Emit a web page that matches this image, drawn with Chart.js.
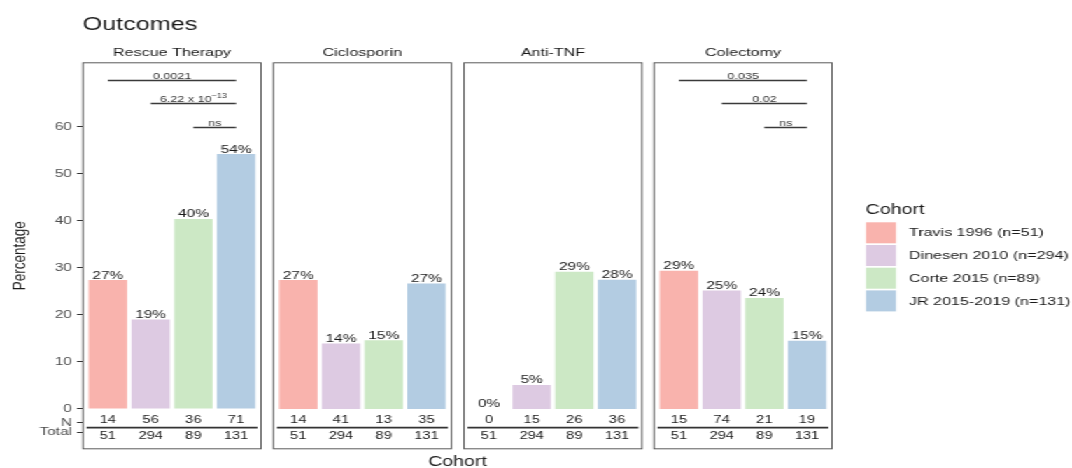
<!DOCTYPE html>
<html>
<head>
<meta charset="utf-8">
<script src="https://cdn.jsdelivr.net/npm/chart.js@4.4.1/dist/chart.umd.min.js"></script>
<style>
html, body { margin: 0; padding: 0; background: #fff; overflow: hidden; }
#fig { position: absolute; left: 0; top: 0; height: 468px; transform-origin: 0 0; }
#fig canvas { position: absolute; left: 0; top: 0; }
</style>
</head>
<body>
<div id="fig"></div>
<script>
// data
const cohorts = ['Travis 1996 (n=51)', 'Dinesen 2010 (n=294)', 'Corte 2015 (n=89)', 'JR 2015-2019 (n=131)'];
const cohortColors = ['#F9B3AD', '#DDCAE2', '#CCE8C5', '#B3CCE2'];
const outcomes = ['Rescue Therapy', 'Ciclosporin', 'Anti-TNF', 'Colectomy'];
const cohortTotals = [51, 294, 89, 131];

const rescuePct = [27.4, 19.0, 40.4, 54.2];
const rescueN = [14, 56, 36, 71];
const ciclosporinPct = [27.4, 13.9, 14.6, 26.7];
const ciclosporinN = [14, 41, 13, 35];
const antiTnfPct = [0, 5.1, 29.2, 27.5];
const antiTnfN = [0, 15, 26, 36];
const colectomyPct = [29.4, 25.2, 23.6, 14.5];
const colectomyN = [15, 74, 21, 19];

const yTicks = [0, 10, 20, 30, 40, 50, 60];

// significance brackets (cohort index pairs, height in %)
const sigPairs = [[1, 4], [2, 4], [3, 4]];
const sigLevels = [70, 65, 60];
const rescueP = [{t: '0.0021'}, {t: '6.22 x 10', sup: '\u221213'}, {t: 'ns'}];
const colectomyP = [{t: '0.035'}, {t: '0.02'}, {t: 'ns'}];

const pctByPanel = [rescuePct, ciclosporinPct, antiTnfPct, colectomyPct];
const nByPanel = [rescueN, ciclosporinN, antiTnfN, colectomyN];
const sigByPanel = [rescueP, null, null, colectomyP];

// layout (the original figure is stretched sideways)
const W = 766, H = 468;
const sx = 1072 / W;
const px = x => x / sx;
const fig = document.getElementById('fig');
fig.style.width = W + 'px';
fig.style.transform = 'scaleX(' + sx + ')';

const FONT = '"Liberation Sans", Arial, Helvetica, sans-serif';
const panelLefts = [82.3, 272.7, 463.3, 653.3];
const panelWidth = 179.4;
const panelTop = 62.3, panelBottom = 449.3;
const yMin = -8.57, yMax = 73.7;
// table rows under the bars, in axis units
const nTickY = -2.9, totalTickY = -4.95, tableLineY = -3.97;
const nTextY = -2.45, totalTextY = -5.75;

function drawSig(ctx, x, y, sig) {
  ctx.strokeStyle = '#3a3a3a';
  ctx.lineWidth = 1.5;
  ctx.fillStyle = '#333';
  ctx.textBaseline = 'alphabetic';
  sig.forEach((s, k) => {
    const x1 = x.getPixelForValue(sigPairs[k][0]);
    const x2 = x.getPixelForValue(sigPairs[k][1]);
    const yy = Math.round(y.getPixelForValue(sigLevels[k])) + 0.5;
    ctx.beginPath(); ctx.moveTo(x1, yy); ctx.lineTo(x2, yy); ctx.stroke();
    ctx.font = '9px ' + FONT;
    const w1 = ctx.measureText(s.t).width;
    let w2 = 0;
    if (s.sup) { ctx.font = '6.5px ' + FONT; w2 = ctx.measureText(s.sup).width; }
    const start = (x1 + x2) / 2 - (w1 + w2) / 2;
    ctx.textAlign = 'left';
    ctx.font = '9px ' + FONT;
    ctx.fillText(s.t, start, yy - 2);
    if (s.sup) { ctx.font = '6.5px ' + FONT; ctx.fillText(s.sup, start + w1, yy - 6); }
  });
}

function panelPlugin(i) {
  return {
    id: 'panel' + i,
    afterDatasetsDraw(chart) {
      const {ctx, chartArea: a, scales: {x, y}} = chart;
      ctx.save();
      ctx.strokeStyle = '#5a5a5a';
      ctx.lineWidth = 1;
      ctx.strokeRect(a.left + 0.5, a.top + 0.5, a.width - 1, a.height - 1);

      ctx.fillStyle = '#1a1a1a';
      ctx.textAlign = 'center';
      ctx.textBaseline = 'alphabetic';
      ctx.font = '11.5px ' + FONT;
      ctx.fillText(outcomes[i], (a.left + a.right) / 2, a.top - 6.3);

      // bar labels
      ctx.font = '11px ' + FONT;
      ctx.fillStyle = '#1a1a1a';
      chart.getDatasetMeta(0).data.forEach((bar, k) => {
        ctx.fillText(Math.round(pctByPanel[i][k]) + '%', bar.x, bar.y - 1.5);
      });

      // N / Total table
      ctx.textBaseline = 'middle';
      ctx.font = '10.5px ' + FONT;
      nByPanel[i].forEach((n, k) => {
        const cx = x.getPixelForValue(k + 1);
        ctx.fillText(String(n), cx, y.getPixelForValue(nTextY));
        ctx.fillText(String(cohortTotals[k]), cx, y.getPixelForValue(totalTextY));
      });
      ctx.strokeStyle = '#333';
      ctx.lineWidth = 1.7;
      const ly = y.getPixelForValue(tableLineY);
      ctx.beginPath();
      ctx.moveTo(x.getPixelForValue(0.5), ly);
      ctx.lineTo(x.getPixelForValue(4.5), ly);
      ctx.stroke();

      if (sigByPanel[i]) drawSig(ctx, x, y, sigByPanel[i]);
      ctx.restore();
    }
  };
}

const figureText = {
  id: 'figureText',
  afterDraw(chart) {
    const ctx = chart.ctx;
    ctx.save();
    ctx.fillStyle = '#1a1a1a';
    ctx.textBaseline = 'alphabetic';
    ctx.textAlign = 'left';
    ctx.font = '18px ' + FONT;
    ctx.fillText('Outcomes', px(82.7), 29.7);

    ctx.font = '14px ' + FONT;
    ctx.textAlign = 'center';
    ctx.fillText('Cohort', px(457.5), 466);

    ctx.save();
    ctx.translate(px(25), (panelTop + panelBottom) / 2);
    ctx.rotate(-Math.PI / 2);
    ctx.font = '13.5px ' + FONT;
    ctx.fillText('Percentage', 0, 0);
    ctx.restore();

    // legend
    ctx.textAlign = 'left';
    ctx.font = '14px ' + FONT;
    ctx.fillText('Cohort', px(865.7), 214);
    ctx.font = '11.5px ' + FONT;
    ctx.textBaseline = 'middle';
    cohorts.forEach((c, k) => {
      const top = 222.3 + k * 22.7;
      ctx.fillStyle = cohortColors[k];
      ctx.fillRect(px(866), top, px(30), 21);
      ctx.fillStyle = '#1a1a1a';
      ctx.fillText(c, px(909), top + 11);
    });
    ctx.restore();
  }
};

function makePanel(i) {
  const canvas = document.createElement('canvas');
  canvas.width = W;
  canvas.height = H;
  fig.appendChild(canvas);
  const left = px(panelLefts[i]);
  const right = px(panelLefts[i] + panelWidth);
  const first = i === 0;
  return new Chart(canvas, {
    type: 'bar',
    data: {
      datasets: [{
        data: pctByPanel[i].map((v, k) => ({x: k + 1, y: v})),
        backgroundColor: cohortColors,
        borderWidth: 0,
        barPercentage: 0.9,
        categoryPercentage: 1
      }]
    },
    options: {
      responsive: false,
      animation: false,
      events: [],
      layout: {padding: {left: first ? 0 : left, right: W - right, top: panelTop, bottom: H - panelBottom}},
      plugins: {legend: {display: false}, tooltip: {enabled: false}},
      scales: {
        x: {type: 'linear', min: 0.4, max: 4.6, offset: false, display: false},
        y: {
          min: yMin, max: yMax,
          display: first,
          afterFit: s => { s.width = first ? left : 0; },
          afterBuildTicks: s => {
            s.ticks = [totalTickY, nTickY].concat(yTicks).map(v => ({value: v}));
          },
          ticks: {
            autoSkip: false,
            padding: px(5),
            color: '#4d4d4d',
            font: {family: FONT, size: 11},
            callback: v => v === nTickY ? 'N' : v === totalTickY ? 'Total' : v
          },
          grid: {drawOnChartArea: false, tickLength: px(5.3), color: '#333', lineWidth: 1},
          border: {display: false}
        }
      }
    },
    plugins: first ? [panelPlugin(i), figureText] : [panelPlugin(i)]
  });
}

outcomes.forEach((o, i) => makePanel(i));
</script>
</body>
</html>
